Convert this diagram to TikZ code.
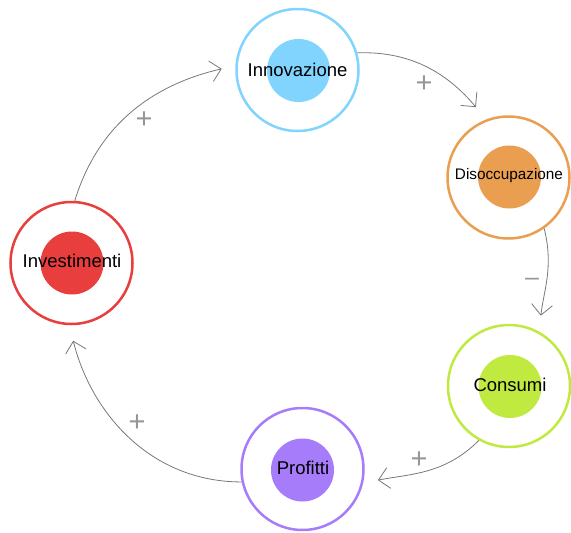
\documentclass[tikz,border=0pt]{standalone}
\usepackage{fontspec}
\setmainfont{Liberation Sans}
\usetikzlibrary{arrows.meta}
\definecolor{cInn}{RGB}{128,212,253}
\definecolor{cDis}{RGB}{234,158,80}
\definecolor{cCon}{RGB}{192,234,64}
\definecolor{cPro}{RGB}{166,124,250}
\definecolor{cInv}{RGB}{232,62,62}
\definecolor{cLine}{RGB}{120,120,120}
\definecolor{cSign}{RGB}{150,150,150}
\tikzset{
  outerc/.style={circle, minimum size=122pt, inner sep=0pt, line width=2.5pt, draw=#1, fill=white},
  innerc/.style={circle, minimum size=63pt, inner sep=0pt, fill=#1},
  lbl/.style={font=\fontsize{18.5}{20}\selectfont, text=black, inner sep=0pt},
  lblsmall/.style={font=\fontsize{15.3}{17}\selectfont, text=black, inner sep=0pt},
  conn/.style={draw=cLine, line width=0.8pt, -{Straight Barb[length=10.5pt,width=21pt]}},
  sign/.style={text=cSign, font=\fontsize{29}{31}\selectfont, inner sep=0pt},
  signdash/.style={text=cSign, font=\fontsize{25}{27}\selectfont, inner sep=0pt}
}
\begin{document}
\begin{tikzpicture}[x=1pt,y=1pt]
\useasboundingbox (0,0) rectangle (571,-533);
% nodes
\node[outerc=cInn] (inn) at (297.5,-70) {};
\node[innerc=cInn] (innc) at (298.5,-70.5) {};
\node[lbl] (innt) at (inn) {Innovazione};

\node[outerc=cDis] (dis) at (508.5,-177.5) {};
\node[innerc=cDis] (disc) at (509.5,-177) {};
\node[lblsmall] (dist) at (509,-176) {Disoccupazione};

\node[outerc=cCon] (con) at (509,-386) {};
\node[innerc=cCon] (conc) at (510,-386.5) {};
\node[lbl] (cont) at (510,-385) {Consumi};

\node[outerc=cPro] (pro) at (302.5,-469) {};
\node[innerc=cPro] (proc) at (302.5,-470) {};
\node[lbl] (prot) at (303,-468) {Profitti};

\node[outerc=cInv] (inv) at (71.5,-263) {};
\node[innerc=cInv] (invc) at (72,-263) {};
\node[lbl] (invt) at (72,-261) {Investimenti};

% connectors
\draw[conn, shorten >=14pt] (inv.87) to[out=73,in=193] (inn.176);
\draw[conn, shorten >=16pt] (inn.16) to[out=2,in=130] (dis.111);
\draw[conn, shorten >=16pt] (dis.-55) to[out=-76,in=84] (con.61);
\draw[conn, shorten >=15pt] (con.241) to[out=225,in=11] (pro.-13);
\draw[conn, shorten >=16pt] (pro.192) to[out=180,in=-76] (inv.268);

% polarity signs
\node[sign] (s1) at (144,-120) {+};
\node[sign] (s2) at (424,-84) {+};
\node[signdash] (s3) at (532,-282) {–};
\node[sign] (s4) at (419,-460) {+};
\node[sign] (s5) at (137,-423) {+};
\end{tikzpicture}
\end{document}
